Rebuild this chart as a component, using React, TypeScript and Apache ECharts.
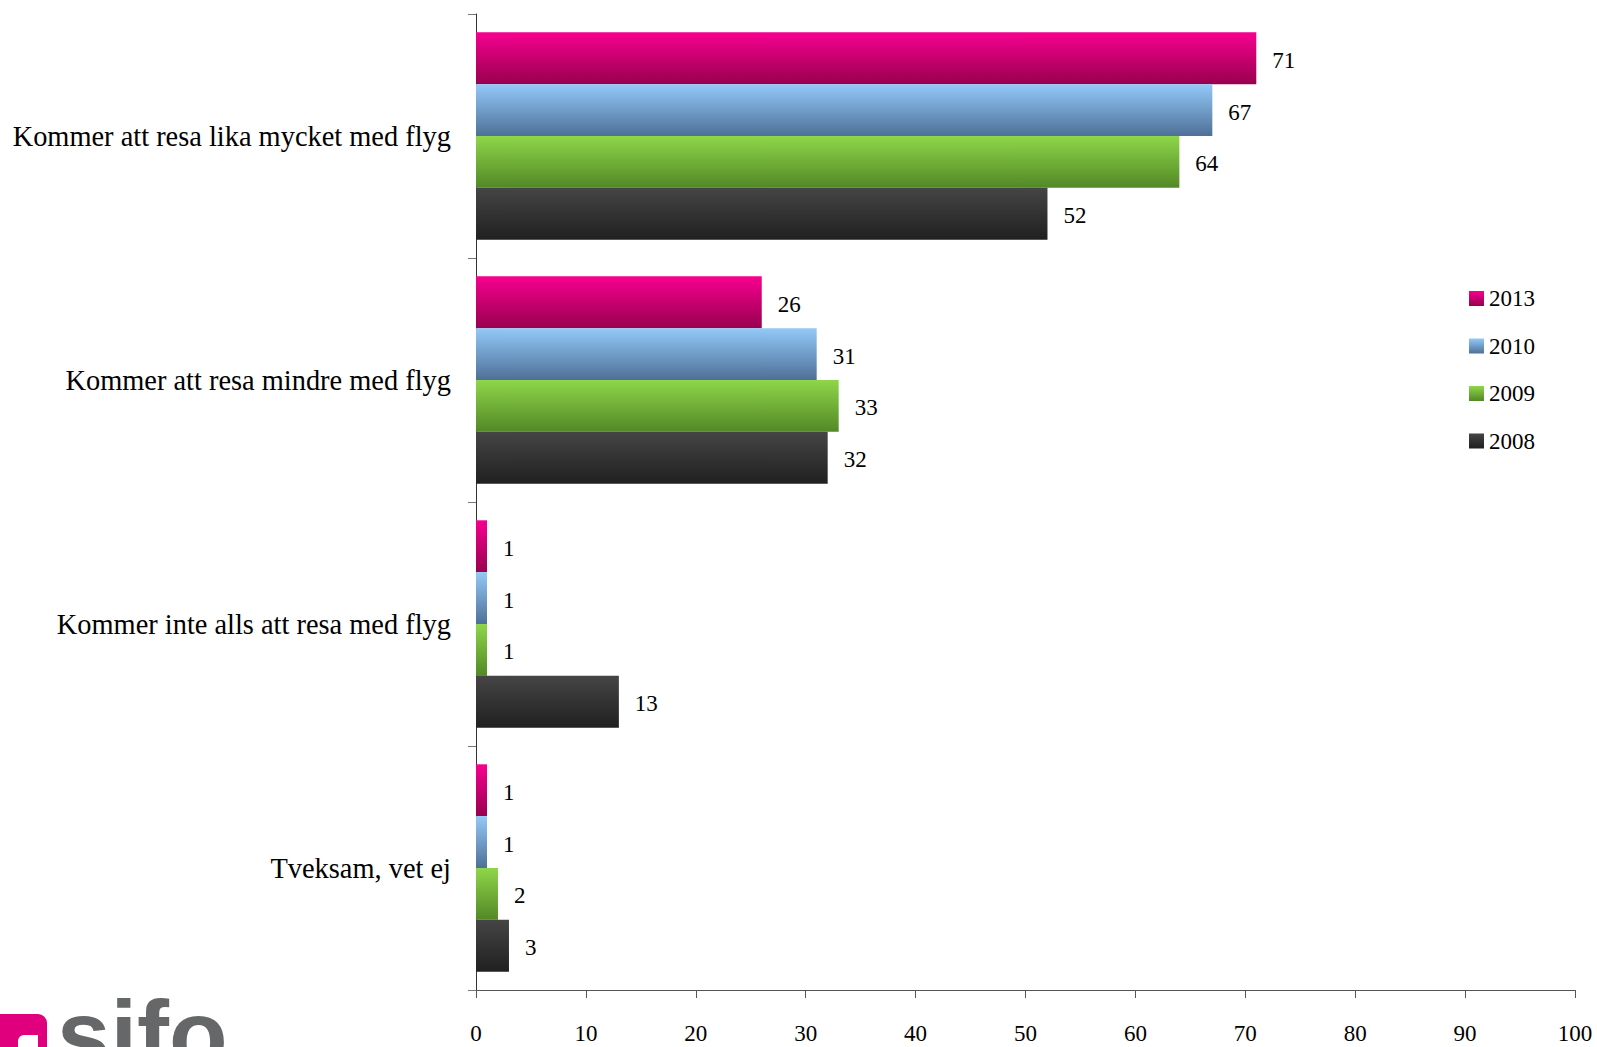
import React, { useEffect, useRef } from "react";
import * as echarts from "echarts";

const categories = [
  "Kommer att resa lika mycket med flyg",
  "Kommer att resa mindre med flyg",
  "Kommer inte alls att resa med flyg",
  "Tveksam, vet ej",
];
const seriesNames = ["2013", "2010", "2009", "2008"];
const values2013 = [71, 26, 1, 1];
const values2010 = [67, 31, 1, 1];
const values2009 = [64, 33, 1, 2];
const values2008 = [52, 32, 13, 3];
const xTicks = [0, 10, 20, 30, 40, 50, 60, 70, 80, 90, 100];

const gradients = [
  ["#f7008f", "#98004f"],
  ["#93c9f9", "#4e7097"],
  ["#8fd64a", "#528826"],
  ["#454545", "#202020"],
];

const FONT = "Liberation Serif";

export default function App() {
  const ref = useRef<HTMLDivElement>(null);
  useEffect(() => {
    if (!ref.current) return;
    const chart = echarts.init(ref.current, undefined, { renderer: "svg" });
    const allValues = [values2013, values2010, values2009, values2008];
    const series = seriesNames.map((name, i) => ({
      name,
      type: "bar",
      data: allValues[i],
      barGap: "0%",
      barCategoryGap: "15%",
      itemStyle: {
        color: new echarts.graphic.LinearGradient(0, 0, 0, 1, [
          { offset: 0, color: gradients[i][0] },
          { offset: 1, color: gradients[i][1] },
        ]),
      },
      label: {
        show: true,
        position: "right",
        distance: 16,
        offset: [0, 2],
        fontFamily: FONT,
        fontSize: 23,
        color: "#000",
      },
    }));
    chart.setOption({
      animation: false,
      textStyle: { fontFamily: FONT },
      grid: { left: 476, right: 22, top: 14, bottom: 57, containLabel: false },
      legend: {
        orient: "vertical",
        left: 1469,
        top: 287,
        itemWidth: 15,
        itemHeight: 15,
        itemGap: 24.5,
        icon: "rect",
        padding: 0,
        data: seriesNames,
        textStyle: { fontFamily: FONT, fontSize: 23, color: "#000", lineHeight: 22 },
      },
      xAxis: {
        type: "value",
        min: xTicks[0],
        max: xTicks[xTicks.length - 1],
        interval: 10,
        splitLine: { show: false },
        axisLine: { show: true, lineStyle: { color: "#555", width: 1 } },
        axisTick: { show: true, length: 8, lineStyle: { color: "#555" } },
        axisLabel: { fontFamily: FONT, fontSize: 23, color: "#000", margin: 32 },
      },
      yAxis: {
        type: "category",
        data: categories,
        inverse: true,
        axisLine: { show: true, lineStyle: { color: "#333", width: 1 } },
        axisTick: { show: true, length: 8, lineStyle: { color: "#777" } },
        axisLabel: { fontFamily: FONT, fontSize: 28.4, color: "#000", margin: 25 },
      },
      graphic: [
        {
          type: "rect",
          shape: { x: -12, y: 1014, width: 59, height: 50, r: 9 },
          style: { fill: "#e0007d" },
        },
        {
          type: "rect",
          shape: { x: 18, y: 1035, width: 20, height: 20, r: [6, 0, 0, 0] },
          style: { fill: "#ffffff" },
        },
        {
          type: "text",
          x: 57,
          y: 986,
          style: {
            text: "sifo",
            fontFamily: "Liberation Sans",
            fontWeight: "bold",
            fontSize: 96,
            fill: "#666768",
            textVerticalAlign: "top",
          },
        },
      ],
      series,
    });
    return () => chart.dispose();
  }, []);
  return <div ref={ref} style={{ width: 1597, height: 1047, position: "absolute", left: 0, top: 0 }} />;
}
